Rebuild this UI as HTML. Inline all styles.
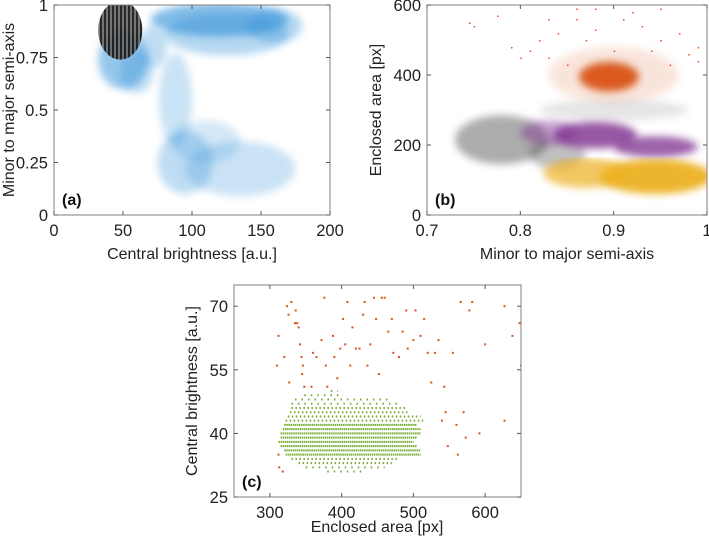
<!DOCTYPE html>
<html><head><meta charset="utf-8"><style>
body{margin:0;background:#fff}
svg{display:block;font-family:"Liberation Sans",sans-serif}
</style></head><body>
<svg id="s" width="709" height="541" viewBox="0 0 709 541">
<defs>
<filter id="bl" x="-50%" y="-50%" width="200%" height="200%"><feGaussianBlur stdDeviation="4"/></filter>
<pattern id="stripe" width="4" height="4" patternUnits="userSpaceOnUse"><rect width="4" height="4" fill="#666"/><rect width="2" height="4" fill="#111"/></pattern>
<clipPath id="ca"><rect x="54" y="5" width="276" height="210"/></clipPath>
<clipPath id="cb"><rect x="427" y="5" width="280" height="210"/></clipPath>
<clipPath id="cc"><rect x="234" y="285" width="287" height="212"/></clipPath>
</defs>
</svg>
<script>
// ---- panel (a) data: brightness vs axis ratio (cloud regions: cx, cy, rx, ry, opacity)
const aBlueCx=[50,120,125,88,95,135,160,72,110,60];
const aBlueCy=[0.74,0.93,0.86,0.55,0.25,0.22,0.9,0.8,0.35,0.68];
const aBlueRx=[18,50,45,12,20,40,20,10,25,12];
const aBlueRy=[0.14,0.08,0.1,0.22,0.15,0.13,0.08,0.1,0.1,0.1];
const aBlueOp=[0.5,0.6,0.35,0.25,0.3,0.25,0.35,0.3,0.2,0.3];
const aBlackCx=[48], aBlackCy=[0.88], aBlackRx=[16], aBlackRy=[0.14];
const aXTicks=[0,50,100,150,200], aYTicks=[0,0.25,0.5,0.75,1];
const aYTickLabels=["0","0.25","0.5","0.75","1"];
// ---- panel (b) data
const bOrangeCx=[0.895,0.9], bOrangeCy=[395,400], bOrangeRx=[0.032,0.07], bOrangeRy=[42,80];
const bHaloX=[0.745,0.75,0.775,0.79,0.81,0.83,0.84,0.86,0.87,0.88,0.92,0.93,0.94,0.95,0.96,0.97,0.98,0.99,0.85,0.82,0.9,0.91,0.86,0.88,0.95,0.99,0.8,0.83];
const bHaloY=[550,540,570,480,470,450,520,560,500,590,580,540,470,500,430,520,460,480,430,500,470,560,590,530,590,440,450,560];
const bBlackCx=[0.78,0.84,0.9], bBlackCy=[215,175,300], bBlackRx=[0.05,0.03,0.08], bBlackRy=[70,45,30];
const bPurpleCx=[0.88,0.945,0.83], bPurpleCy=[228,195,235], bPurpleRx=[0.045,0.045,0.03], bPurpleRy=[38,30,35];
const bYellowCx=[0.87,0.945], bYellowCy=[120,110], bYellowRx=[0.045,0.06], bYellowRy=[42,50];
const bXTicks=[0.7,0.8,0.9,1], bXTickLabels=["0.7","0.8","0.9","1"], bYTicks=[0,200,400,600];
// ---- panel (c) data
const cOrangeX=[312,310,320,324,326,327,330,336,335,338,340,342,344,346,345,348,358,360,365,372,376,378,380,388,390,394,398,402,405,408,412,415,420,425,430,432,436,440,445,448,452,456,460,465,470,472,480,485,490,492,500,503,510,515,520,525,530,535,540,543,545,548,555,560,562,566,570,573,578,582,592,600,627,627,638,648,650,312,313,318];
const cOrangeY=[63,56,58,70,68,52,71,69,66,66,65,61,58,56,54,51,51,59,58,62,72,56,51,63,58,53,60,67,61,71,56,65,60,60,68,71,56,61,72,67,54,72,72,64,67,59,58,64,69,60,62,69,63,67,59,52,59,62,43,51,45,37,59,42,35,71,45,39,69,71,40,61,70,43,63,66,56,35,32,31];
const cRowY=[50,49,48,47,46,45,44,43,42,41,40,39,38,37,36,35,34,33,32,31];
const cRowMin=[385,348,335,330,330,328,325,322,320,318,315,315,312,315,320,322,330,340,350,380];
const cRowMax=[395,400,470,480,490,495,510,515,505,510,510,505,500,505,510,510,480,470,460,430];
const cRowDense=[0,0,0,0,1,1,1,1,2,2,2,2,2,2,2,2,1,1,0,0];
const cXTicks=[300,400,500,600], cYTicks=[25,40,55,70];

const svg=document.getElementById('s'), NS='http://www.w3.org/2000/svg';
function mk(tag,at,parent){const e=document.createElementNS(NS,tag);for(const k in at)e.setAttribute(k,at[k]);(parent||svg).appendChild(e);return e;}
function lin(d0,d1,p0,p1){return v=>p0+(v-d0)/(d1-d0)*(p1-p0);}

function axes(name,x0,y0,x1,y1,xs,ys,xt,xl,yt,yl,xlab,ylab,xlabX,xlabY,ylabX,ylabY,tag){
  const g=mk('g',{});
  
  
  const box=mk('rect',{x:x0,y:y0,width:x1-x0,height:y1-y0,fill:'none',stroke:'#808080','stroke-width':1},g);
  
  
  xt.forEach((v,i)=>{const x=xs(v);
    mk('line',{x1:x,x2:x,y1:y1,y2:y1-4,stroke:'#555'},g);mk('line',{x1:x,x2:x,y1:y0,y2:y0+4,stroke:'#555'},g);
    const t=mk('text',{x:x,y:y1+21,'text-anchor':'middle','font-size':16.5,fill:'#222'},g);t.textContent=xl[i];
    
    });
  yt.forEach((v,i)=>{const y=ys(v);
    mk('line',{x1:x0,x2:x0+4,y1:y,y2:y,stroke:'#555'},g);mk('line',{x1:x1,x2:x1-4,y1:y,y2:y,stroke:'#555'},g);
    const t=mk('text',{x:x0-6,y:y+6,'text-anchor':'end','font-size':16.5,fill:'#222'},g);t.textContent=yl[i];
    
    });
  const a=mk('text',{x:xlabX,y:xlabY,'text-anchor':'middle','font-size':16,fill:'#222'},g);a.textContent=xlab;
  
  
  const b=mk('text',{x:ylabX,y:ylabY,'text-anchor':'middle','font-size':16,fill:'#222',transform:`rotate(-90 ${ylabX} ${ylabY})`},g);b.textContent=ylab;
  
  
  const c=mk('text',{x:x0+8,y:y1-10,'font-size':16,'font-weight':'bold',fill:'#111'},g);c.textContent=tag;
  
  
}
function clouds(g,xs,ys,cx,cy,rx,ry,fill,op,blur,nm){
  cx.forEach((v,i)=>{const e=mk('ellipse',{cx:xs(v),cy:ys(cy[i]),rx:Math.abs(xs(v+rx[i])-xs(v)),ry:Math.abs(ys(cy[i]+ry[i])-ys(cy[i])),fill:fill,opacity:op?op[i]:0.9,filter:blur?'url(#bl)':''},g);
    
    });
}
// panel a
{const xs=lin(0,200,54,330), ys=lin(0,1,215,5);
 const g=mk('g',{'clip-path':'url(#ca)'});
 
 
 clouds(g,xs,ys,aBlueCx,aBlueCy,aBlueRx,aBlueRy,'#2f8fd8',aBlueOp,true,'blue-cloud');
 clouds(g,xs,ys,aBlackCx,aBlackCy,aBlackRx,aBlackRy,'url(#stripe)',null,false,'black-cluster');
 axes('panel-a',54,5,330,215,xs,ys,aXTicks,aXTicks.map(String),aYTicks,aYTickLabels,'Central brightness [a.u.]','Minor to major semi-axis',192,259,14,110,'(a)');}
// panel b
{const xs=lin(0.7,1,427,707), ys=lin(0,600,215,5);
 const g=mk('g',{'clip-path':'url(#cb)'});
 
 
 clouds(g,xs,ys,bBlackCx,bBlackCy,bBlackRx,bBlackRy,'#333',[0.4,0.3,0.12],true,'black-cloud');
 bHaloX.forEach((v,i)=>{const p=mk('rect',{x:xs(v),y:ys(bHaloY[i]),width:1.5,height:1.5,fill:'#e8501e'},g);
   
   });
 clouds(g,xs,ys,bPurpleCx,bPurpleCy,bPurpleRx,bPurpleRy,'#7e2f8e',[0.8,0.75,0.45],true,'purple-cloud');
 const cut=mk('clipPath',{id:'cy'},svg.querySelector('defs'));
 mk('rect',{x:0,y:ys(165),width:709,height:300},cut);
 const gy2=mk('g',{'clip-path':'url(#cy)'},g);
 clouds(gy2,xs,ys,bYellowCx,bYellowCy,bYellowRx,bYellowRy,'#edb120',[0.7,0.95],true,'yellow-cloud');
 clouds(g,xs,ys,bOrangeCx,bOrangeCy,bOrangeRx,bOrangeRy,'#d95319',[0.95,0.15],true,'orange-cloud');
 axes('panel-b',427,5,707,215,xs,ys,bXTicks,bXTickLabels,bYTicks,bYTicks.map(String),'Minor to major semi-axis','Enclosed area [px]',567,259,381,110,'(b)');}
// panel c
{const xs=lin(250,650,234,521), ys=lin(25,75,497,285);
 const g=mk('g',{'clip-path':'url(#cc)'});
 
 
 const dash=['1.5 5','1.5 2.5','1.5 0.6'];
 cRowY.forEach((v,i)=>{const l=mk('line',{x1:xs(cRowMin[i]),x2:xs(cRowMax[i]),y1:ys(v),y2:ys(v),stroke:'#77ac30','stroke-width':2,'stroke-dasharray':dash[cRowDense[i]]},g);
   
   });
 cOrangeX.forEach((v,i)=>{const p=mk('rect',{x:xs(v)-1,y:ys(cOrangeY[i])-1,width:2,height:2,fill:'#d95319'},g);
   
   });
 axes('panel-c',234,285,521,497,xs,ys,cXTicks,cXTicks.map(String),cYTicks,cYTicks.map(String),'Enclosed area [px]','Central brightness [a.u.]',377,532,197,391,'(c)');}
</script>
</body></html>
